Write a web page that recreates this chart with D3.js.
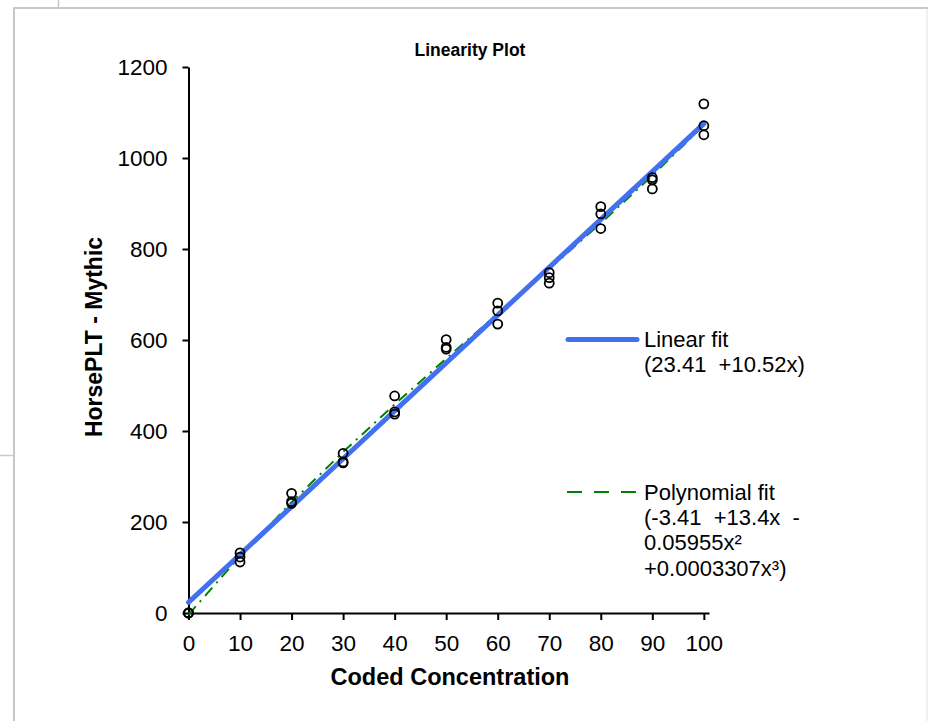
<!DOCTYPE html>
<html>
<head>
<meta charset="utf-8">
<script src="https://cdn.jsdelivr.net/npm/d3@7"></script>
<style>
body { margin: 0; background: #fff; }
svg text { font-family: "Liberation Sans", Arial, sans-serif; fill: #000; white-space: pre; }
</style>
</head>
<body>
<svg id="chart" width="928" height="721"></svg>
<script>
// coded concentration levels and the three replicate readings at each
var concentrations = [0, 10, 20, 30, 40, 50, 60, 70, 80, 90, 100];
var rep1 = [0, 132, 263, 351, 477, 601, 681, 748, 893, 957, 1119];
var rep2 = [0, 123, 245, 332, 442, 584, 664, 737, 877, 952, 1071];
var rep3 = [0, 112, 241, 330, 437, 580, 635, 725, 845, 932, 1051];

var xTicks = [0, 10, 20, 30, 40, 50, 60, 70, 80, 90, 100];
var yTicks = [0, 200, 400, 600, 800, 1000, 1200];

// fit coefficients as printed in the legend
var linearCoef = [23.41, 10.52];
var polyCoef = [-3.41, 13.4, -0.05955, 0.0003307];
var linearLabel = ["Linear fit", "(23.41  +10.52x)"];
var polyLabel = ["Polynomial fit", "(-3.41  +13.4x  -", "0.05955x\u00b2", "+0.0003307x\u00b3)"];

var svg = d3.select("#chart");

// spreadsheet-like frame around the chart
var frame = svg.append("g").attr("stroke", "#c8c8c8").attr("fill", "none");
frame.append("line").attr("x1", 13).attr("x2", 928).attr("y1", 8).attr("y2", 8).attr("stroke-width", 2);
frame.append("line").attr("x1", 14).attr("x2", 14).attr("y1", 8).attr("y2", 721).attr("stroke-width", 2);
frame.append("line").attr("x1", 58.5).attr("x2", 58.5).attr("y1", 0).attr("y2", 8).attr("stroke-width", 1.5);
frame.append("line").attr("x1", 0).attr("x2", 14).attr("y1", 455.5).attr("y2", 455.5).attr("stroke-width", 1.5);
frame.append("line").attr("x1", 927).attr("x2", 927).attr("y1", 9).attr("y2", 721).attr("stroke", "#e2e2e2").attr("stroke-width", 1);

var x = d3.scaleLinear().domain([0, 101]).range([188.5, 709]);
var y = d3.scaleLinear().domain([0, 1200]).range([613, 67]);

var xAxis = svg.append("g")
	.attr("transform", "translate(0,613)")
	.call(d3.axisBottom(x).tickValues(xTicks).tickFormat(d3.format("d")).tickSize(7).tickSizeOuter(0).tickPadding(15));
var yAxis = svg.append("g")
	.attr("transform", "translate(188.5,0)")
	.call(d3.axisLeft(y).tickValues(yTicks).tickFormat(d3.format("d")).tickSize(6).tickSizeOuter(0).tickPadding(15));

[xAxis, yAxis].forEach(function(a){
	a.selectAll("path, line").attr("stroke", "#000").attr("stroke-width", 2);
	a.selectAll("text").attr("font-size", 22.5).attr("font-family", "Liberation Sans, Arial, sans-serif").attr("fill", "#000");
});

// fitted lines
function evalPoly(c, v){
	var s = 0;
	for(var i=0;i<c.length;i++) s += c[i]*Math.pow(v, i);
	return s;
}
var line = d3.line().x(function(d){ return x(d[0]); }).y(function(d){ return y(d[1]); });

svg.append("path")
	.datum(concentrations.map(function(c){ return [c, evalPoly(polyCoef, c)]; }))
	.attr("d", line).attr("fill", "none")
	.attr("stroke", "#008000").attr("stroke-width", 2).attr("stroke-dasharray", "11,6,2,6");

svg.append("path")
	.datum(concentrations.map(function(c){ return [c, evalPoly(linearCoef, c)]; }))
	.attr("d", line).attr("fill", "none")
	.attr("stroke", "#4170f0").attr("stroke-width", 5).attr("stroke-linecap", "round");

// observations
var points = [];
[rep1, rep2, rep3].forEach(function(rep){
	rep.forEach(function(v, i){ points.push([concentrations[i], v]); });
});
svg.append("g").selectAll("circle").data(points).enter().append("circle")
	.attr("cx", function(d){ return x(d[0]); })
	.attr("cy", function(d){ return y(d[1]); })
	.attr("r", 4.5)
	.attr("fill", "none").attr("stroke", "#000").attr("stroke-width", 1.8);

// titles
svg.append("text").attr("x", 470).attr("y", 56).attr("text-anchor", "middle")
	.attr("font-size", 17.5).attr("font-weight", "bold").text("Linearity Plot");
svg.append("text").attr("x", 450).attr("y", 685).attr("text-anchor", "middle")
	.attr("font-size", 23.5).attr("font-weight", "bold").text("Coded Concentration");
svg.append("text").attr("transform", "translate(102,337) rotate(-90)").attr("text-anchor", "middle")
	.attr("font-size", 23).attr("font-weight", "bold").text("HorsePLT - Mythic");

// legend
var legend = svg.append("g");
legend.append("line").attr("x1", 568).attr("x2", 637).attr("y1", 339.5).attr("y2", 339.5)
	.attr("stroke", "#4170f0").attr("stroke-width", 5).attr("stroke-linecap", "round");
legend.selectAll("text.lin").data(linearLabel).enter().append("text")
	.attr("x", 644).attr("y", function(d, i){ return 339.5 + i*25; }).attr("dy", "0.35em")
	.attr("font-size", 22).text(function(d){ return d; });

legend.append("line").attr("x1", 567).attr("x2", 637).attr("y1", 492).attr("y2", 492)
	.attr("stroke", "#008000").attr("stroke-width", 2).attr("stroke-dasharray", "15,12");
legend.selectAll("text.poly").data(polyLabel).enter().append("text")
	.attr("x", 644).attr("y", function(d, i){ return 492 + i*25.3; }).attr("dy", "0.35em")
	.attr("font-size", 22).text(function(d){ return d; });
</script>
</body>
</html>
